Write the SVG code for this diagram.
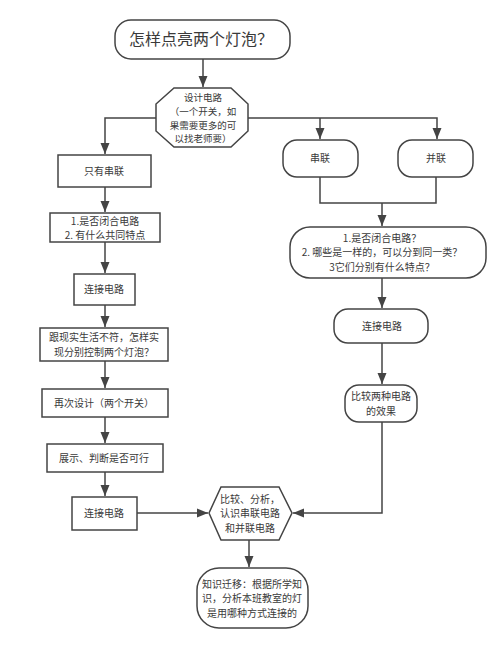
<svg xmlns="http://www.w3.org/2000/svg" width="500" height="645" viewBox="0 0 500 645">
<defs>
<marker id="arr" markerUnits="userSpaceOnUse" markerWidth="12" markerHeight="12" viewBox="0 0 12 12" refX="11" refY="6" orient="auto">
<path d="M0,1.5 L11,6 L0,10.5 Z" fill="#444"/>
</marker>
<style>
.s{fill:#fff;stroke:#444;stroke-width:1.5}
.c{fill:none;stroke:#444;stroke-width:1.5}
text{font-family:"Noto Sans CJK SC","Microsoft YaHei",sans-serif;font-size:10px;fill:#3a3a3a;text-anchor:middle}
.t{font-size:16px}
.o{font-size:9.5px}
</style>
</defs>
<rect width="500" height="645" fill="#fff"/>
<g id="connectors">
<path class="c" d="M203,59 V87" marker-end="url(#arr)"/>
<path class="c" d="M156,118 H105 V154" marker-end="url(#arr)"/>
<path class="c" d="M248,118 H437 V139" marker-end="url(#arr)"/>
<path class="c" d="M320,118 V139" marker-end="url(#arr)"/>
<path class="c" d="M320,177 V203 H436 V177"/>
<path class="c" d="M382,203 V226" marker-end="url(#arr)"/>
<path class="c" d="M382,278 V308" marker-end="url(#arr)"/>
<path class="c" d="M382,343 V384" marker-end="url(#arr)"/>
<path class="c" d="M382,422 V513 H293" marker-end="url(#arr)"/>
<path class="c" d="M105,187 V212" marker-end="url(#arr)"/>
<path class="c" d="M105,242 V273" marker-end="url(#arr)"/>
<path class="c" d="M105,305 V327" marker-end="url(#arr)"/>
<path class="c" d="M105,361 V388" marker-end="url(#arr)"/>
<path class="c" d="M105,417 V443" marker-end="url(#arr)"/>
<path class="c" d="M105,472 V496" marker-end="url(#arr)"/>
<path class="c" d="M137,513 H208" marker-end="url(#arr)"/>
<path class="c" d="M249,540 V567" marker-end="url(#arr)"/>
</g>
<g id="title">
<rect class="s" x="115" y="20" width="175" height="39" rx="16"/>
<text class="t" x="201" y="45">怎样点亮两个灯泡？</text>
</g>
<g id="design">
<polygon class="s" points="174,88 231,88 248,104 248,131 231,147 174,147 156,131 156,104"/>
<text class="o" x="203" y="101"><tspan x="203">设计电路</tspan><tspan x="203" dy="13.8">（一个开关，如</tspan><tspan x="203" dy="13.8">果需要更多的可</tspan><tspan x="203" dy="13.8">以找老师要）</tspan></text>
</g>
<g id="series-only">
<rect class="s" x="58" y="155" width="93" height="32"/>
<text x="104" y="175">只有串联</text>
</g>
<g id="q1">
<rect class="s" x="50" y="213" width="110" height="29"/>
<text x="105" y="224.5"><tspan x="105">1.是否闭合电路</tspan><tspan x="105" dy="14.5">2. 有什么共同特点</tspan></text>
</g>
<g id="connect1">
<rect class="s" x="74" y="274" width="61" height="31"/>
<text x="104" y="293">连接电路</text>
</g>
<g id="reallife">
<rect class="s" x="40" y="328" width="128" height="33"/>
<text x="104" y="341"><tspan x="104">跟现实生活不符，怎样实</tspan><tspan x="104" dy="14.5">现分别控制两个灯泡？</tspan></text>
</g>
<g id="redesign">
<rect class="s" x="42" y="389" width="126" height="28"/>
<text x="104" y="407">再次设计（两个开关）</text>
</g>
<g id="show">
<rect class="s" x="47" y="444" width="116" height="28"/>
<text x="104" y="462">展示、判断是否可行</text>
</g>
<g id="connect2">
<rect class="s" x="72" y="497" width="65" height="33"/>
<text x="104" y="517">连接电路</text>
</g>
<g id="series">
<rect class="s" x="283" y="140" width="75" height="37" rx="14"/>
<text x="320" y="162">串联</text>
</g>
<g id="parallel">
<rect class="s" x="398" y="140" width="75" height="37" rx="14"/>
<text x="436" y="162">并联</text>
</g>
<g id="q2">
<rect class="s" x="290" y="227" width="196" height="51" rx="20"/>
<text x="382" y="241.5"><tspan x="382">1.是否闭合电路？</tspan><tspan x="382" dy="14.5">2. 哪些是一样的，可以分到同一类？</tspan><tspan x="382" dy="14.5">3它们分别有什么特点？</tspan></text>
</g>
<g id="connect3">
<rect class="s" x="334" y="309" width="94" height="34" rx="14"/>
<text x="382" y="330">连接电路</text>
</g>
<g id="compare2">
<rect class="s" x="345" y="385" width="72" height="37" rx="14"/>
<text x="381" y="400"><tspan x="381">比较两种电路</tspan><tspan x="381" dy="14.5">的效果</tspan></text>
</g>
<g id="analyze">
<polygon class="s" points="221,487 279,487 292,513 279,540 221,540 209,513"/>
<text x="250" y="502.5"><tspan x="250">比较、分析，</tspan><tspan x="250" dy="14.5">认识串联电路</tspan><tspan x="250" dy="14.5">和并联电路</tspan></text>
</g>
<g id="transfer">
<rect class="s" x="197" y="568" width="111" height="60" rx="22"/>
<text x="252" y="587.5"><tspan x="252">知识迁移：根据所学知</tspan><tspan x="252" dy="14.5">识，分析本班教室的灯</tspan><tspan x="252" dy="14.5">是用哪种方式连接的</tspan></text>
</g>
</svg>
